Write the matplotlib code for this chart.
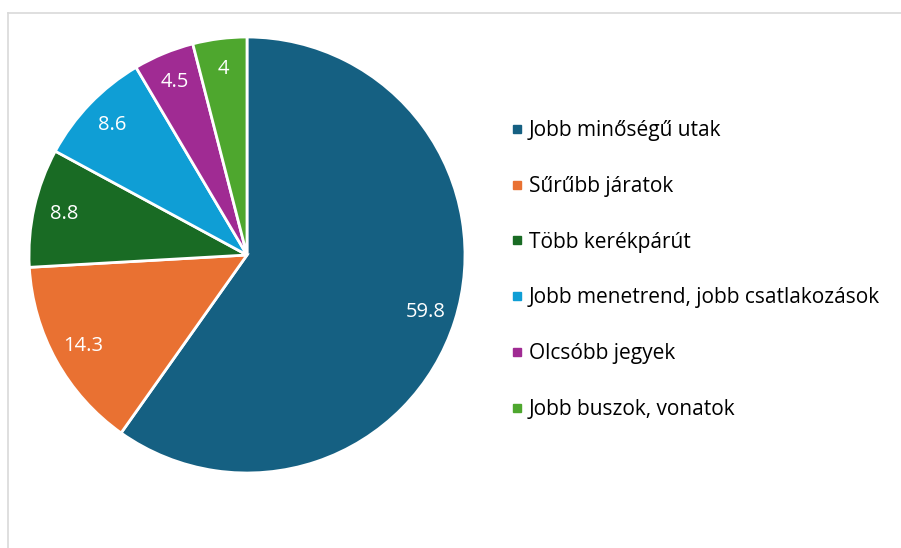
import matplotlib.pyplot as plt
from matplotlib.lines import Line2D

labels = ['Jobb minőségű utak', 'Sűrűbb járatok', 'Több kerékpárút',
          'Jobb menetrend, jobb csatlakozások', 'Olcsóbb jegyek', 'Jobb buszok, vonatok']
values = [59.8, 14.3, 8.8, 8.6, 4.5, 4]
colors = ['#156082', '#E97132', '#196B24', '#0F9ED5', '#A02B93', '#4EA72E']

plt.rcParams['font.family'] = ['Open Sans', 'DejaVu Sans']

W, H = 901, 548
fig = plt.figure(figsize=(W/100, H/100), dpi=100)

# thin grey frame on top and left, like the original chart area border
fig.add_artist(Line2D([8/W, 8/W], [0, 1-13/H], color='#d9d9d9', lw=1.2, transform=fig.transFigure))
fig.add_artist(Line2D([8/W, 1], [1-13/H, 1-13/H], color='#d9d9d9', lw=1.2, transform=fig.transFigure))

cx, cy, r = 247, 255, 218
ax = fig.add_axes([(cx-r)/W, (H-cy-r)/H, 2*r/W, 2*r/H])
wedges, texts, autotexts = ax.pie(values, colors=colors, startangle=90, counterclock=False,
                                  autopct=lambda p: '{:g}'.format(round(p, 1)),
                                  pctdistance=0.86,
                                  wedgeprops=dict(edgecolor='white', linewidth=2))
for t in autotexts:
    t.set_color('white')
    t.set_fontsize(14.5)
ax.set_xlim(-1, 1)
ax.set_ylim(-1, 1)
ax.set_aspect('equal')
ax.axis('off')

handles = [Line2D([], [], marker='s', linestyle='', color=c, markersize=6) for c in colors]
fig.legend(handles, labels, loc='center left', bbox_to_anchor=(503/W, 1-270/H),
           frameon=False, fontsize=15, handlelength=0.5, handletextpad=0.35,
           labelspacing=1.67, borderaxespad=0)

fig.savefig('out.png', dpi=100)
